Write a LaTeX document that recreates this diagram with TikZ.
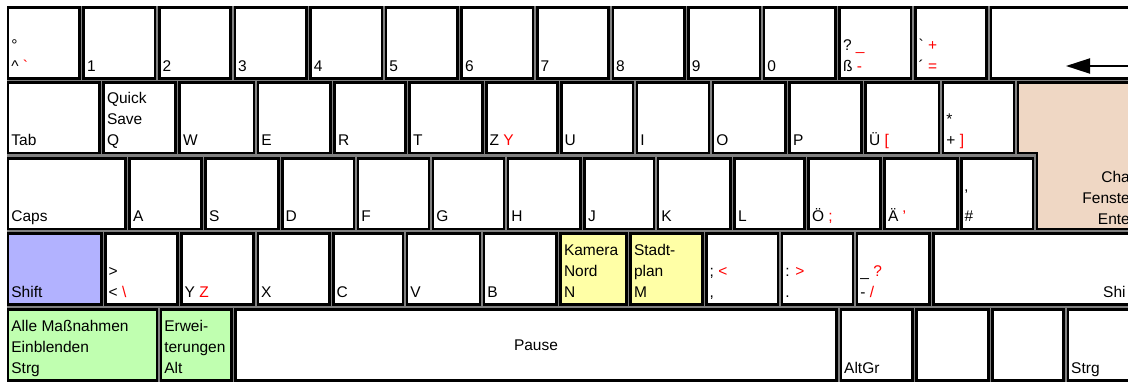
\documentclass[tikz,border=0pt]{standalone}
\usepackage{xcolor}
\usepackage{fontspec}
\setmainfont{Liberation Sans}
\usepackage{tikz}
\usetikzlibrary{arrows.meta}
\definecolor{bleuMaj}{RGB}{178,178,255}
\definecolor{jauneCam}{RGB}{255,255,166}
\definecolor{vertAct}{RGB}{192,255,176}
\definecolor{pecheEnt}{RGB}{239,215,196}
\tikzset{
	touche/.style={draw=black,line width=2.6pt},
	etiq/.style={anchor=base west,inner sep=0pt,font=\fontsize{15.5}{21}\selectfont}
}
\newcommand{\rg}[1]{\textcolor{red}{#1}}
\newcommand{\lignes}[1]{\begin{tabular}[b]{@{}l@{}}#1\end{tabular}}

\begin{document}
\begin{tikzpicture}[x=1pt,y=-1pt]
	\def\hautA{6};
	\def\basA{79.8};
	\def\hautB{81};
	\def\basB{154.5};
	\def\hautC{157};
	\def\basC{230.5};
	\def\hautD{232.5};
	\def\basD{306};
	\def\hautE{308};
	\def\basE{382};
	\useasboundingbox (0,0) rectangle (1128,382);
	\clip (0,0) rectangle (1128,382); % coupe le clavier a droite
	
	%Fond entre les touches
	\fill[black!50] (6.7,\hautA) rectangle (1140,390);
	
	%Rangee 1 : chiffres
	\foreach \t [count=\i from 0] in {{°\\\textasciicircum\ \rg{\textasciigrave}},1,2,3,4,5,6,7,8,9,0,{?\ \rg{\_}\\ß \rg{-}},{\textasciigrave\ \rg{+}\\´ \rg{=}}}{
		\pgfmathsetmacro{\g}{6.7+75.6*\i}
		\filldraw[touche,fill=white] (\g+1.3,\hautA+1.3) rectangle (\g+72.8,\basA-1.3);
		\node[etiq] (ta-\i) at (\g+4.5,\basA-8.5) {\lignes{\t}};
	}
	%Retour arriere
	\filldraw[touche,fill=white] (990.8,\hautA+1.3) rectangle (1140,\basA-1.3);
	\coordinate (bsD) at (1140,66);
	\coordinate (bsG) at (1066,66);
	\draw[line width=2pt,-{Triangle[length=24pt,width=15pt]}] (bsD) -- (bsG);
	
	%Rangee 2
	\foreach \g/\d/\t [count=\i] in {6.7/100.8/Tab, 102.3/176.8/{Quick\\Save\\Q}, 178.3/255.2/W, 256.7/331.8/E, 333.3/406.8/R, 408.3/483.5/T, 485/558.5/{Z \rg{Y}}, 560/634.2/U, 635.7/710.2/I, 711.7/786.8/O, 788.3/862.8/P, 864.3/940.2/{Ü \rg{[}}, 941.7/1015.2/{*\\+ \rg{]}}}{
		\filldraw[touche,fill=white] (\g+1.3,\hautB+1.3) rectangle (\d-1.3,\basB-1.3);
		\node[etiq] (tb-\i) at (\g+4.5,\basB-8.5) {\lignes{\t}};
	}
	
	%Rangee 3
	\foreach \g/\d/\t [count=\i] in {6.7/126.8/Caps, 128.3/202.8/A, 204.3/279.5/S, 281/355.2/D, 356.7/430.2/F, 431.7/505.2/G, 506.7/581.8/H, 583.3/655.2/J, 656.7/731.8/K, 733.3/805.8/L, 807.3/881.8/{Ö \rg{;}}, 883.3/958.5/{Ä \rg{'}}, 960/1034.2/{'\\\#}}{
		\filldraw[touche,fill=white] (\g+1.3,\hautC+1.3) rectangle (\d-1.3,\basC-1.3);
		\node[etiq] (tc-\i) at (\g+4.5,\basC-8.5) {\lignes{\t}};
	}
	
	%Entree (forme en L)
	\filldraw[touche,fill=pecheEnt] (1018,\hautB+1.3) -- (1140,\hautB+1.3) -- (1140,\basC-1.3) -- (1037,\basC-1.3) -- (1037,\basB-1.3) -- (1018,\basB-1.3) -- cycle;
	\node[anchor=base east,inner sep=0pt,font=\fontsize{15.5}{21}\selectfont] (entree) at (1130,225) {\begin{tabular}[b]{@{}r@{}}Cha\\Fenste\\Ente\end{tabular}};
	
	%Rangee 4
	\foreach \g/\d/\f/\t [count=\i] in {6.7/102.5/bleuMaj/Shift, 104/178.5/white/{>\\< \rg{\textbackslash}}, 180/255/white/{Y \rg{Z}}, 256.5/330.5/white/X, 332/404.2/white/C, 405.7/481.2/white/V, 482.7/557.8/white/B, 559.3/627.8/jauneCam/{Kamera\\Nord\\N}, 629.3/703.5/jauneCam/{Stadt-\\plan\\M}, 705/779.2/white/{; \rg{<}\\,}, 780.7/854.2/white/{: \rg{>}\\.}, 855.7/930.8/white/{\_ \rg{?}\\- \rg{/}}, 932.3/1140/white/{}}{
		\filldraw[touche,fill=\f] (\g+1.3,\hautD+1.3) rectangle (\d-1.3,\basD-1.3);
		\ifx\t\empty\else
			\node[etiq] (td-\i) at (\g+4.5,\basD-8.5) {\lignes{\t}};
		\fi
	}
	\node[etiq] (majD) at (1103,\basD-8.5) {Shi};
	
	%Rangee 5
	\foreach \g/\d/\f/\t [count=\i] in {6.7/158.1/vertAct/{Alle Maßnahmen\\Einblenden\\Strg}, 159.6/232.5/vertAct/{Erwei-\\terungen\\Alt}, 234/838/white/{}, 839.5/913.5/white/AltGr, 915/989.5/white/{}, 991/1065/white/{}, 1066.5/1140/white/Strg}{
		\filldraw[touche,fill=\f] (\g+1.3,\hautE+1.3) rectangle (\d-1.3,\basE-1.3);
		\ifx\t\empty\else
			\node[etiq] (te-\i) at (\g+4.5,\basE-8.5) {\lignes{\t}};
		\fi
	}
	\node[font=\fontsize{15.5}{21}\selectfont] (pause) at (536,345) {Pause};
	
\end{tikzpicture}
\end{document}
